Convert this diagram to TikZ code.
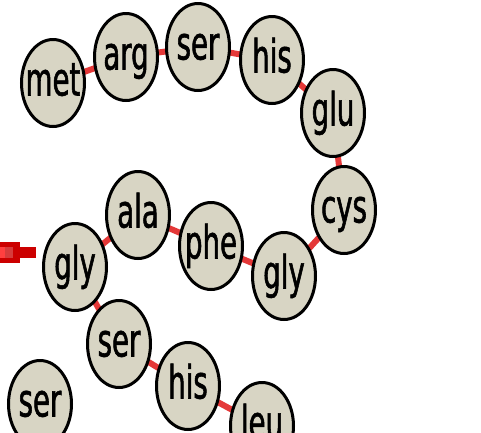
\documentclass[tikz,border=0pt]{standalone}
\usepackage{fontspec}
\newfontfamily\aafont{DejaVu Sans}[FakeStretch=0.6,FakeBold=1.2]
\usetikzlibrary{shapes.geometric,backgrounds}
\definecolor{aafill}{RGB}{216,213,196}
\definecolor{linkred}{RGB}{228,56,56}
\definecolor{ptrdark}{RGB}{204,0,0}
\definecolor{ptrmid}{RGB}{214,60,60}
\definecolor{ptrlight}{RGB}{255,64,64}
\begin{document}
\begin{tikzpicture}[x=1pt,y=-1pt,
  aa/.style={ellipse, draw=black, line width=3pt, fill=aafill,
    minimum width=63pt, minimum height=87pt, inner sep=-20pt,
    font=\aafont\fontsize{46}{46}\selectfont,
    text height=25pt, text depth=0pt},
  link/.style={draw=linkred, line width=6pt}]
\useasboundingbox (0,0) rectangle (481,432);

% residues of the peptide chain
\node[aa] (met)  at (53,83)   {met};
\node[aa] (arg)  at (126,57)  {arg};
\node[aa] (ser1) at (198,47)  {ser};
\node[aa] (his1) at (272,60)  {his};
\node[aa] (glu)  at (333,113) {glu};
\node[aa] (cys)  at (344,210) {cys};
\node[aa] (gly2) at (284,276) {gly};
\node[aa] (phe)  at (211,246) {phe};
\node[aa] (ala)  at (138,215) {ala};
\node[aa] (gly1) at (75,267)  {gly};
\node[aa] (ser2) at (119,344) {ser};
\node[aa] (his2) at (188,386) {his};
\node[aa] (leu)  at (262,426) {leu};
\node[aa] (ser3) at (40,404)  {ser};

% peptide bonds, hidden behind the residues
\begin{pgfonlayer}{background}
  \draw[link] (met.center) -- (arg.center);
  \draw[link] (arg.center) -- (ser1.center);
  \draw[link] (ser1.center) -- (his1.center);
  \draw[link] (his1.center) -- (glu.center);
  \draw[link] (glu.center) -- (cys.center);
  \draw[link] (cys.center) -- (gly2.center);
  \draw[link] (gly2.center) -- (phe.center);
  \draw[link] (phe.center) -- (ala.center);
  \draw[link] (ala.center) -- (gly1.center);
  \draw[link] (gly1.center) -- (ser2.center);
  \draw[link] (ser2.center) -- (his2.center);
  \draw[link] (his2.center) -- (leu.center);
\end{pgfonlayer}

% red pointer at the left edge
\fill[ptrdark] (0,242) rectangle (20,263);
\fill[ptrdark] (20,247) rectangle (36,258);
\fill[ptrmid] (5,247) rectangle (13,258);
\fill[ptrlight] (0,247) rectangle (5,258);
\end{tikzpicture}
\end{document}
